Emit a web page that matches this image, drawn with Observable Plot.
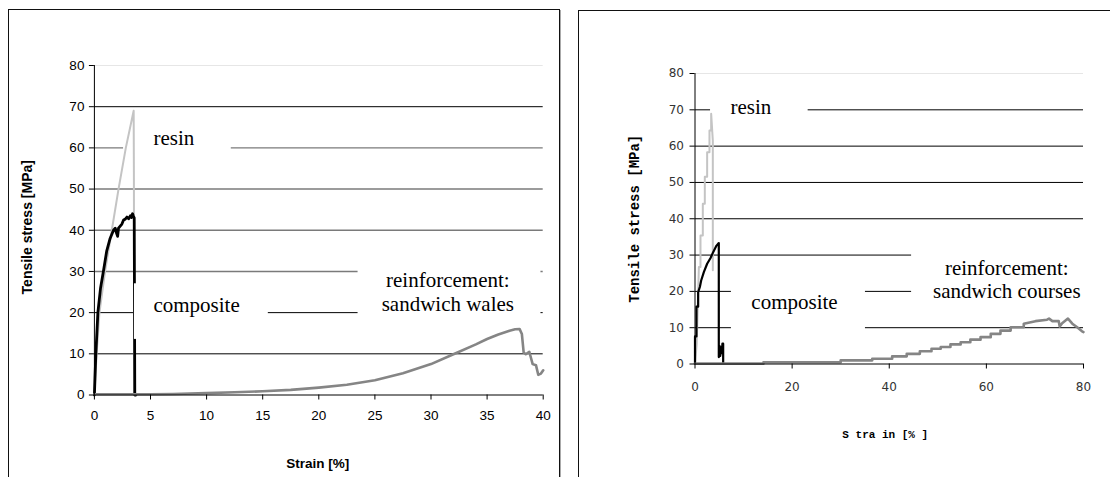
<!DOCTYPE html>
<html><head><meta charset="utf-8">
<script src="https://cdn.jsdelivr.net/npm/d3@7"></script>
<script src="https://cdn.jsdelivr.net/npm/@observablehq/plot@0.6"></script>
<style>
body{margin:0;background:#fff;}
#wrap{position:relative;width:1110px;height:477px;overflow:hidden;background:#fff;}
.panel{position:absolute;border:1px solid #111;box-shadow:1px 1px 0 #aaa;}
#p1{left:8px;top:9px;width:550px;height:520px;}
#p2{left:578px;top:10px;width:600px;height:520px;}
#c1,#c2{position:absolute;top:0;}
#c1{left:0;} #c2{left:560px;}
</style></head>
<body>
<div id="wrap"><div class="panel" id="p1"></div><div class="panel" id="p2"></div><div id="c1"></div><div id="c2"></div></div>
<script>
// ---------- Left panel: sandwich wales ----------
const walesResinStrain = [0, 0.2, 0.45, 0.95, 1.55, 2.15, 2.8, 3.5, 3.52, 3.55];
const walesResinStress = [0, 10, 20, 30, 40, 50, 60, 69, 54, 0];
const walesCompStrain = [0, 0.05, 0.13, 0.31, 0.55, 0.8, 1.1, 1.4, 1.7, 1.86, 1.95, 2.07, 2.15, 2.3, 2.45, 2.6, 2.75, 2.9, 3.05, 3.2, 3.3, 3.4, 3.48, 3.55, 3.6, 3.7];
const walesCompStress = [0, 4, 10, 20, 26, 30, 35, 38, 40, 40.5, 39.5, 38.5, 40.5, 41, 41.5, 42.5, 42.7, 43.2, 42.8, 43.5, 43.1, 44, 43.4, 43, 0, 0];
const walesReinfStrain = [0, 5, 7, 10, 12.5, 15, 17.5, 20, 22.5, 25, 27.5, 30, 32, 34, 35, 36, 37, 37.5, 37.9, 38.1, 38.26, 38.45, 38.76, 38.9, 39.06, 39.36, 39.56, 39.8, 40];
const walesReinfStress = [0.2, 0.2, 0.25, 0.45, 0.65, 0.9, 1.25, 1.8, 2.5, 3.6, 5.3, 7.5, 9.9, 12.3, 13.6, 14.7, 15.6, 15.95, 16, 14.8, 10.3, 9.9, 10.5, 9.1, 7.5, 7.2, 4.9, 5.2, 6.0];
const walesXTicks = [0, 5, 10, 15, 20, 25, 30, 35, 40];
const walesYTicks = [0, 10, 20, 30, 40, 50, 60, 70, 80];
const walesGridBlack = [70, 20, 10];
const walesGridGray = [60, 50, 40, 30];
const walesGridLight = [80];
// white backgrounds of the text boxes, data coordinates: resin box, then composite and reinforcement boxes
const walesResinBoxX1 = [2.6], walesResinBoxX2 = [12.2], walesResinBoxY1 = [53], walesResinBoxY2 = [67];
const walesBoxX1 = [3.57, 23.5];
const walesBoxX2 = [15.5, 39.8];
const walesBoxY1 = [13.5, 17];
const walesBoxY2 = [27, 34];
const walesLeftLabels = ["resin", "composite"];
const walesLeftLabelX = [5.26, 5.26];
const walesLeftLabelY = [62.3, 21.7];
const walesCenterLabels = ["reinforcement:\nsandwich wales"];
const walesCenterLabelX = [31.5];
const walesCenterLabelY = [25.1];

// ---------- Right panel: sandwich courses ----------
const coursesResinStrain = [0, 0.35, 0.8, 1.13, 1.13, 1.61, 1.61, 2.02, 2.02, 2.5, 2.5, 2.98, 2.98, 3.33, 3.33, 3.67, 3.67];
const coursesResinStress = [0, 5.5, 26.7, 26.7, 35.4, 35.4, 44.1, 44.1, 51.6, 51.6, 58.3, 58.3, 64.3, 64.3, 68.9, 61.5, 25.8];
const coursesCompStrain = [0, 0, 0.3, 0.3, 0.65, 0.65, 1.0, 1.27, 1.82, 2.5, 3.2, 3.74, 4.43, 4.9, 4.9, 5.05, 5.2, 5.35, 5.5, 5.65, 5.8, 5.8];
const coursesCompStress = [0, 7.6, 7.6, 15.8, 15.8, 19.8, 21.2, 23.0, 25.3, 27.6, 29.2, 30.8, 32.6, 33.3, 1.9, 5.0, 2.2, 4.6, 3.0, 5.6, 5.6, 0];
const coursesReinfStrain = [0, 14.1, 14.1, 25.2, 30.0, 30.0, 36.5, 36.5, 40.6, 40.6, 43.6, 43.6, 46.3, 46.3, 48.7, 48.7, 50.6, 50.6, 52.6, 52.6, 54.7, 54.7, 56.7, 56.7, 58.8, 58.8, 60.9, 60.9, 62.9, 62.9, 65.0, 65.0, 67.7, 67.7, 70.1, 72.5, 72.9, 73.6, 74.9, 75.1, 75.6, 76.8, 77.7, 78.7, 79.7, 80];
const coursesReinfStress = [0.1, 0.1, 0.5, 0.5, 0.5, 1.0, 1.0, 1.45, 1.45, 2.1, 2.1, 2.8, 2.8, 3.5, 3.5, 4.2, 4.2, 4.7, 4.7, 5.4, 5.4, 6.0, 6.0, 6.7, 6.7, 7.4, 7.4, 8.3, 8.3, 9.2, 9.2, 10.1, 10.1, 11.1, 11.8, 12.2, 12.5, 11.8, 11.8, 10.3, 11.2, 12.5, 11.1, 10.1, 9.0, 8.8];
const coursesXTicks = [0, 20, 40, 60, 80];
const coursesYTicks = [0, 10, 20, 30, 40, 50, 60, 70, 80];
const coursesGridBlack = [70, 60, 50, 40, 30, 20, 10];
const coursesGridLight = [80];
const coursesBoxX1 = [3.2, 7.5, 44.6];
const coursesBoxX2 = [23.3, 35.1, 80];
const coursesBoxY1 = [63, 5, 14];
const coursesBoxY2 = [77, 27, 34];
const coursesLeftLabels = ["resin", "composite"];
const coursesLeftLabelX = [7.3, 11.6];
const coursesLeftLabelY = [70.7, 16.9];
const coursesCenterLabels = ["reinforcement:\nsandwich courses"];
const coursesCenterLabelX = [64.2];
const coursesCenterLabelY = [23.4];

const rows = (xs, ys) => xs.map((x, i) => ({x, y: ys[i]}));
const boxRows = (a, b, c, d) => a.map((v, i) => ({x1: v, x2: b[i], y1: c[i], y2: d[i]}));
const labelRows = (t, xs, ys) => t.map((s, i) => ({text: s, x: xs[i], y: ys[i]}));
const serif = "'Liberation Serif', 'Times New Roman', serif";
const mono = "'Liberation Mono', 'Courier New', monospace";

// Left chart
const left = Plot.plot({
  width: 560, height: 477,
  marginLeft: 93.9, marginRight: 17.3, marginTop: 65, marginBottom: 82.5,
  x: {domain: [0, 40], label: null},
  y: {domain: [0, 80], label: null},
  style: {background: "transparent", overflow: "visible", fontFamily: "'Liberation Sans', Arial, sans-serif", fontSize: "13.5px", color: "#000"},
  marks: [
    Plot.ruleY(walesGridLight, {stroke: "#e6e6e6", strokeWidth: 1}),
    Plot.ruleY(walesGridGray, {stroke: "#7a7a7a", strokeWidth: 1.4}),
    Plot.ruleY(walesGridBlack, {stroke: "#000", strokeWidth: 1}),
    Plot.rect(boxRows(walesResinBoxX1, walesResinBoxX2, walesResinBoxY1, walesResinBoxY2), {x1: "x1", x2: "x2", y1: "y1", y2: "y2", fill: "#fff"}),
    Plot.line(rows(walesResinStrain, walesResinStress), {x: "x", y: "y", stroke: "#c4c4c4", strokeWidth: 2}),
    Plot.line(rows(walesCompStrain, walesCompStress), {x: "x", y: "y", stroke: "#000", strokeWidth: 2.8}),
    Plot.rect(boxRows(walesBoxX1, walesBoxX2, walesBoxY1, walesBoxY2), {x1: "x1", x2: "x2", y1: "y1", y2: "y2", fill: "#fff"}),
    Plot.line(rows(walesReinfStrain, walesReinfStress), {x: "x", y: "y", stroke: "#858585", strokeWidth: 2.6}),
    Plot.ruleX([0], {stroke: "#000"}),
    Plot.ruleY([0], {stroke: "#000"}),
    Plot.axisX(walesXTicks, {tickSize: 5, tickPadding: 10, label: null, fontSize: 13.5}),
    Plot.axisY(walesYTicks, {tickSize: 5, tickPadding: 5, label: null, fontSize: 13.5}),
    Plot.text(labelRows(walesLeftLabels, walesLeftLabelX, walesLeftLabelY), {x: "x", y: "y", text: "text", textAnchor: "start", lineAnchor: "middle", fontFamily: serif, fontSize: 21}),
    Plot.text(labelRows(walesCenterLabels, walesCenterLabelX, walesCenterLabelY), {x: "x", y: "y", text: "text", textAnchor: "middle", lineAnchor: "middle", lineHeight: 1.13, fontFamily: serif, fontSize: 21}),
    Plot.text(["Tensile stress [MPa]"], {text: d => d, frameAnchor: "left", textAnchor: "middle", lineAnchor: "middle", rotate: -90, dx: -67, dy: -3, fontWeight: "bold", fontSize: 14}),
    Plot.text(["Strain [%]"], {text: d => d, frameAnchor: "bottom", textAnchor: "middle", lineAnchor: "middle", dy: 68.5, dx: -1, fontWeight: "bold", fontSize: 13.5})
  ]
});
document.getElementById("c1").appendChild(left);

// Right chart
const right = Plot.plot({
  width: 550, height: 477,
  marginLeft: 134.5, marginRight: 27, marginTop: 73, marginBottom: 113.5,
  x: {domain: [0, 80], label: null},
  y: {domain: [0, 80], label: null},
  style: {background: "transparent", overflow: "visible", fontFamily: "'DejaVu Sans', Verdana, sans-serif", fontSize: "12px", color: "#000"},
  marks: [
    Plot.ruleY(coursesGridLight, {stroke: "#e6e6e6", strokeWidth: 1}),
    Plot.ruleY(coursesGridBlack, {stroke: "#000", strokeWidth: 1}),
    Plot.rect(boxRows(coursesBoxX1, coursesBoxX2, coursesBoxY1, coursesBoxY2), {x1: "x1", x2: "x2", y1: "y1", y2: "y2", fill: "#fff"}),
    Plot.line(rows(coursesResinStrain, coursesResinStress), {x: "x", y: "y", stroke: "#c4c4c4", strokeWidth: 2}),
    Plot.line(rows(coursesCompStrain, coursesCompStress), {x: "x", y: "y", stroke: "#000", strokeWidth: 2.2}),
    Plot.line(rows(coursesReinfStrain, coursesReinfStress), {x: "x", y: "y", stroke: "#858585", strokeWidth: 2.6}),
    Plot.ruleX([0], {stroke: "#000"}),
    Plot.ruleY([0], {stroke: "#000"}),
    Plot.axisX(coursesXTicks, {tickSize: 5, tickPadding: 13, label: null, fontSize: 12, fill: "#333"}),
    Plot.axisY(coursesYTicks, {tickSize: 5, tickPadding: 6, label: null, fontSize: 12, fill: "#333"}),
    Plot.text(labelRows(coursesLeftLabels, coursesLeftLabelX, coursesLeftLabelY), {x: "x", y: "y", text: "text", textAnchor: "start", lineAnchor: "middle", fontFamily: serif, fontSize: 21}),
    Plot.text(labelRows(coursesCenterLabels, coursesCenterLabelX, coursesCenterLabelY), {x: "x", y: "y", text: "text", textAnchor: "middle", lineAnchor: "middle", lineHeight: 1.1, fontFamily: serif, fontSize: 21}),
    Plot.text(["Tensile stress [MPa]"], {text: d => d, frameAnchor: "left", textAnchor: "middle", lineAnchor: "middle", rotate: -90, dx: -60.5, dy: 0, fontFamily: mono, fontWeight: 900, fontSize: 14}),
    Plot.text(["S tra in [% ]"], {text: d => d, frameAnchor: "bottom", textAnchor: "middle", lineAnchor: "middle", dy: 70.5, dx: -4, fontFamily: mono, fontWeight: "bold", fontSize: 11})
  ]
});
document.getElementById("c2").appendChild(right);
</script>
</body></html>
